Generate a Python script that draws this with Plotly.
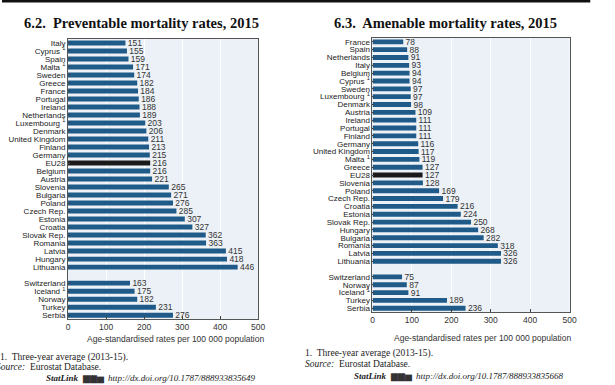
import plotly.graph_objects as go

# ---------------- data ----------------
left_title = "6.2.  Preventable mortality rates, 2015"
left_eu_countries = ["Italy", "Cyprus <sup>1</sup>", "Spain", "Malta <sup>1</sup>", "Sweden", "Greece", "France",
                     "Portugal", "Ireland", "Netherlands", "Luxembourg <sup>1</sup>", "Denmark", "United Kingdom",
                     "Finland", "Germany", "EU28", "Belgium", "Austria", "Slovenia", "Bulgaria", "Poland",
                     "Czech Rep.", "Estonia", "Croatia", "Slovak Rep.", "Romania", "Latvia", "Hungary", "Lithuania"]
left_eu_values = [151, 155, 159, 171, 174, 182, 184, 186, 188, 189, 203, 206, 211, 213, 215, 216, 216, 221,
                  265, 271, 276, 285, 307, 327, 362, 363, 415, 418, 446]
left_other_countries = ["Switzerland", "Iceland <sup>1</sup>", "Norway", "Turkey", "Serbia"]
left_other_values = [163, 175, 182, 231, 276]

right_title = "6.3.  Amenable mortality rates, 2015"
right_eu_countries = ["France", "Spain", "Netherlands", "Italy", "Belgium", "Cyprus <sup>1</sup>", "Sweden",
                      "Luxembourg <sup>1</sup>", "Denmark", "Austria", "Ireland", "Portugal", "Finland", "Germany",
                      "United Kingdom", "Malta <sup>1</sup>", "Greece", "EU28", "Slovenia", "Poland", "Czech Rep.",
                      "Croatia", "Estonia", "Slovak Rep.", "Hungary", "Bulgaria", "Romania", "Latvia", "Lithuania"]
right_eu_values = [78, 88, 91, 93, 94, 94, 97, 97, 98, 109, 111, 111, 111, 116, 117, 119, 127, 127, 128,
                   169, 179, 216, 224, 250, 268, 282, 318, 326, 326]
right_other_countries = ["Switzerland", "Norway", "Iceland <sup>1</sup>", "Turkey", "Serbia"]
right_other_values = [75, 87, 91, 189, 236]

x_ticks = [0, 100, 200, 300, 400, 500]
x_title = "Age-standardised rates per 100 000 population"
footnote = "1.  Three-year average (2013-15)."
source = "<i>Source:</i>  Eurostat Database."
left_link = "http://dx.doi.org/10.1787/888933835649"
right_link = "http://dx.doi.org/10.1787/888933835668"

# ---------------- style ----------------
W, H = 615, 385
BAR = "#1f5a88"
EU = "#1a1a1a"
BG = "#ecf1f7"
SANS = "Liberation Sans, Arial, sans-serif"
SERIF = "Liberation Serif, Times New Roman, serif"


def px_x(p):
    return p / W


def px_y(p):
    return 1 - p / H


def build(countries_eu, values_eu, countries_o, values_o):
    labels = countries_eu + countries_o
    values = values_eu + values_o
    pos = list(range(len(countries_eu))) + [len(countries_eu) + 1 + i for i in range(len(countries_o))]
    colors = [EU if c == "EU28" else BAR for c in labels]
    return labels, values, pos, colors


fig = go.Figure()

panels = [
    (left_eu_countries, left_eu_values, left_other_countries, left_other_values, "x", "y", (67, 260), (39, 320)),
    (right_eu_countries, right_eu_values, right_other_countries, right_other_values, "x2", "y2", (376, 576), (38, 313)),
]

for i, (ce, ve, co, vo, xa, ya, (x0, x1), (y0, y1)) in enumerate(panels):
    labels, values, pos, colors = build(ce, ve, co, vo)
    fig.add_trace(go.Bar(
        x=values, y=pos, orientation="h", marker=dict(color=colors, line=dict(width=0)),
        width=0.62, text=["\u00a0" + str(v) for v in values], textposition="outside", cliponaxis=False,
        constraintext="none",
        textfont=dict(family=SANS, size=8.5, color="#333333"),
        xaxis=xa, yaxis=ya, showlegend=False, hoverinfo="skip"))
    sfx = "" if i == 0 else str(i + 1)
    fig.layout["xaxis" + sfx] = dict(
        domain=[px_x(x0), px_x(x1)], range=[0, 500], tickvals=x_ticks, ticks="inside", ticklen=3,
        tickcolor="#444", showgrid=True, gridcolor="#ffffff", gridwidth=1, zeroline=False,
        showline=True, linecolor="#555555", linewidth=1, mirror=True,
        tickfont=dict(family=SANS, size=8.5, color="#333333"), anchor="y" + sfx, fixedrange=True)
    fig.layout["yaxis" + sfx] = dict(
        domain=[px_y(y1), px_y(y0)], range=[pos[-1] + 0.5, -0.5], tickvals=pos, ticktext=labels,
        ticks="inside", ticklen=2, tickcolor="#444", showgrid=False, zeroline=False,
        showline=True, linecolor="#555555", linewidth=1, mirror=True,
        tickfont=dict(family=SANS, size=8, color="#222222"), anchor="x" + sfx, fixedrange=True)

ann = []
# titles
ann.append(dict(text="<b>" + left_title + "</b>", x=px_x(20), y=px_y(23), xanchor="left", yanchor="middle",
                font=dict(family=SERIF, size=14.5, color="#111")))
ann.append(dict(text="<b>" + right_title + "</b>", x=px_x(335), y=px_y(23), xanchor="left", yanchor="middle",
                font=dict(family=SERIF, size=14.5, color="#111")))
# axis titles
ann.append(dict(text=x_title, x=px_x(268), y=px_y(340), xanchor="right", yanchor="middle",
                font=dict(family=SANS, size=8.5, color="#333")))
ann.append(dict(text=x_title, x=px_x(579), y=px_y(339), xanchor="right", yanchor="middle",
                font=dict(family=SANS, size=8.5, color="#333")))
# footnotes
ann.append(dict(text=footnote, x=px_x(-4), y=px_y(358), xanchor="left", yanchor="middle",
                font=dict(family=SERIF, size=9.5, color="#222")))
ann.append(dict(text=source, x=px_x(-8), y=px_y(368), xanchor="left", yanchor="middle",
                font=dict(family=SERIF, size=9.5, color="#222")))
ann.append(dict(text=footnote, x=px_x(305), y=px_y(354), xanchor="left", yanchor="middle",
                font=dict(family=SERIF, size=9.5, color="#222")))
ann.append(dict(text=source, x=px_x(305), y=px_y(365), xanchor="left", yanchor="middle",
                font=dict(family=SERIF, size=9.5, color="#222")))
# statlinks
for (x, y, link) in [(43, 379, left_link), (355, 377, right_link)]:
    ann.append(dict(text="<b><i>StatLink</i></b>  <span style='color:#333'>▆▆▅</span>  <i>" + link + "</i>",
                    x=px_x(x), y=px_y(y), xanchor="left", yanchor="middle",
                    font=dict(family=SERIF, size=9, color="#222")))
for a in ann:
    a.update(xref="paper", yref="paper", showarrow=False)

shapes = [dict(type="rect", xref="paper", yref="paper", x0=0, x1=px_x(597), y0=px_y(2.5), y1=1,
               fillcolor="#111", line=dict(width=0))]

fig.update_layout(
    width=W, height=H, margin=dict(l=0, r=0, t=0, b=0),
    paper_bgcolor="white", plot_bgcolor=BG, bargap=0.38,
    annotations=ann, shapes=shapes,
)

fig.write_html("out.html", config={"displayModeBar": False},
               post_script="document.body.style.margin='0';document.body.style.overflow='hidden';")
